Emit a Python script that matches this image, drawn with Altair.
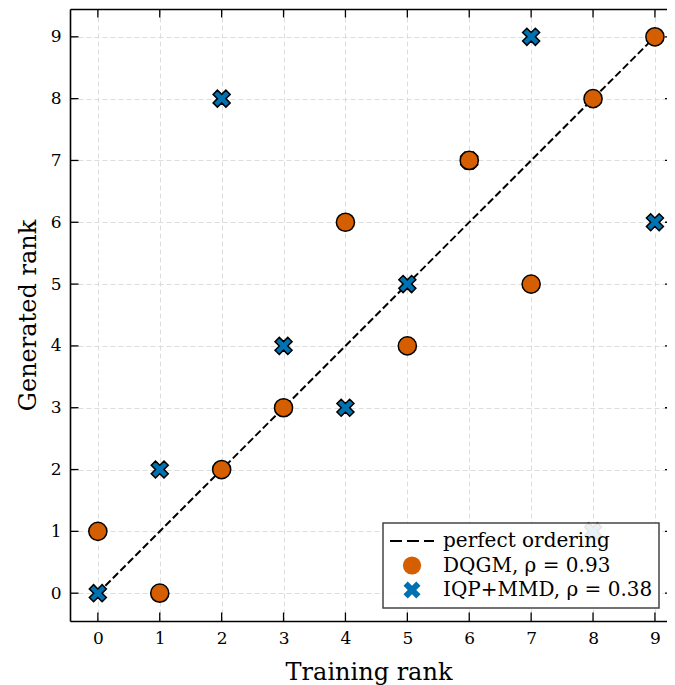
import altair as alt
import pandas as pd

# ---------------- data ----------------
train_rank = [0, 1, 2, 3, 4, 5, 6, 7, 8, 9]
dqgm_gen = [1, 0, 2, 3, 6, 4, 7, 5, 8, 9]
iqp_gen = [0, 2, 8, 4, 3, 5, 7, 9, 1, 6]
line_x = [0, 9]
line_y = [0, 9]
tick_values = [0, 1, 2, 3, 4, 5, 6, 7, 8, 9]

LINE_LABEL = "perfect ordering"
DQGM_LABEL = "DQGM, ρ = 0.93"
IQP_LABEL = "IQP+MMD, ρ = 0.38"
series_names = [LINE_LABEL, DQGM_LABEL, IQP_LABEL]
series_colors = ["#000000", "#D55E00", "#0072B2"]

# ---------------- style ----------------
FONT = "DejaVu Serif"
W, H = 597, 612
TICK = 8.5

X_PATH = "M1,-0.5L0.5,0L1,0.5L0.5,1L0,0.5L-0.5,1L-1,0.5L-0.5,0L-1,-0.5L-0.5,-1L0,-0.5L0.5,-1Z"
DASH_PATH = ("M-1,-0.045H-0.455V0.045H-1Z "
             "M-0.227,-0.045H0.318V0.045H-0.227Z "
             "M0.545,-0.045H1V0.045H0.545Z")

line_df = pd.DataFrame({"x": line_x, "y": line_y})
dqgm_df = pd.DataFrame({"x": train_rank, "y": dqgm_gen, "series": DQGM_LABEL})
iqp_df = pd.DataFrame({"x": train_rank, "y": iqp_gen, "series": IQP_LABEL})
tick_df = pd.DataFrame({"t": tick_values})

xs = alt.Scale(domain=[-0.45, 9.195], nice=False, zero=False)
ys = alt.Scale(domain=[-0.45, 9.45], nice=False, zero=False)

grid_kw = dict(grid=True, gridColor="#d9d9d9", gridDash=[5, 3], gridWidth=0.9)
label_kw = dict(labelFont=FONT, labelFontSize=17, labelColor="black",
                titleFont=FONT, titleFontSize=24, titleFontWeight="normal",
                titleColor="black", domainColor="black", domainWidth=1.6)

x_axis_bottom = alt.Axis(orient="bottom", values=tick_values, format="d",
                         ticks=False, tickSize=0, labelPadding=9,
                         title="Training rank", titlePadding=14,
                         **grid_kw, **label_kw)
x_axis_top = alt.Axis(orient="top", values=tick_values, ticks=False, tickSize=0,
                      labels=False, grid=False, title=None,
                      domainColor="black", domainWidth=1.6)
y_axis = alt.Axis(orient="left", values=tick_values, format="d",
                  ticks=False, tickSize=0, labelPadding=9,
                  title="Generated rank", titlePadding=10,
                  **grid_kw, **label_kw)

leg = alt.Legend(orient="none", legendX=313, legendY=514, title=None)
cscale = alt.Scale(domain=series_names, range=series_colors)
shscale = alt.Scale(domain=series_names, range=[DASH_PATH, "circle", X_PATH])
szscale = alt.Scale(type="ordinal", domain=series_names, range=[1936, 330, 290])

line = alt.Chart(line_df).mark_line(
    color="black", strokeWidth=2, strokeDash=[7.4, 3.2]
).encode(
    x=alt.X("x:Q", scale=xs, axis=x_axis_bottom),
    y=alt.Y("y:Q", scale=ys, axis=y_axis),
)

bottom_ticks = alt.Chart(tick_df).mark_rule(color="black", strokeWidth=1.3).encode(
    x=alt.X("t:Q", scale=xs, axis=None),
    y=alt.value(H), y2=alt.value(H - TICK),
)
top_ticks = alt.Chart(tick_df).mark_rule(color="black", strokeWidth=1.3).encode(
    x=alt.X("t:Q", scale=xs, axis=x_axis_top),
    y=alt.value(0), y2=alt.value(TICK),
)
left_ticks = alt.Chart(tick_df).mark_rule(color="black", strokeWidth=1.3).encode(
    y=alt.Y("t:Q", scale=ys, axis=y_axis),
    x=alt.value(0), x2=alt.value(TICK),
)
right_ticks = alt.Chart(tick_df).mark_rule(color="black", strokeWidth=1.3).encode(
    y=alt.Y("t:Q", scale=ys, axis=y_axis),
    x=alt.value(W - 2), x2=alt.value(W),
)


def points(df):
    return alt.Chart(df).mark_point(
        filled=True, stroke="black", strokeWidth=1.5, opacity=1
    ).encode(
        x=alt.X("x:Q", scale=xs, axis=None),
        y=alt.Y("y:Q", scale=ys, axis=y_axis),
        color=alt.Color("series:N", scale=cscale, legend=leg),
        shape=alt.Shape("series:N", scale=shscale, legend=leg),
        size=alt.Size("series:N", scale=szscale, legend=leg),
    )


chart = alt.layer(
    line, bottom_ticks, top_ticks, left_ticks, right_ticks,
    points(iqp_df), points(dqgm_df)
).resolve_axis(x="independent").properties(
    width=W, height=H,
    autosize=alt.AutoSizeParams(type="none"),
    padding={"left": 62, "top": 1, "right": 0, "bottom": 64},
).configure_view(stroke=None).configure_legend(
    labelFont=FONT, labelFontSize=20, labelColor="black", labelLimit=400,
    clipHeight=24, padding=6, rowPadding=0.5, labelOffset=8,
    fillColor="rgba(255,255,255,0.9)", strokeColor="#444444", strokeWidth=1.5,
    cornerRadius=0, symbolStrokeColor="black", symbolStrokeWidth=1.5,
    symbolOpacity=1,
)

chart.save("out.html", embed_options={"renderer": "svg", "actions": False})
